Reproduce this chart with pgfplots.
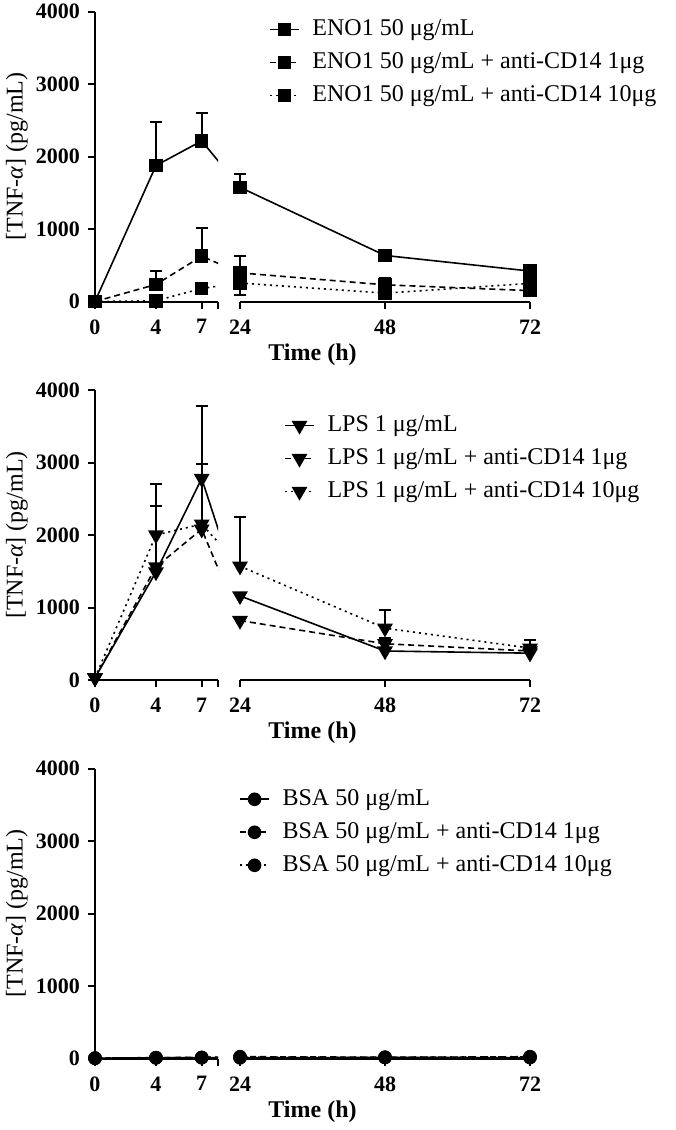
\documentclass[border=0pt]{standalone}
\usepackage{fontspec}
\setmainfont{Liberation Serif}
\usepackage{pgfplots}
\usepackage{pgfplotstable}
\pgfplotsset{compat=1.18}

% ---------- ENO1 ----------
\pgfplotstableread{
t y
0 0
4 1875
7 2215
24 1575
48 635
72 420
}\enoA
\pgfplotstableread{
t y
0 0
4 235
7 625
24 395
48 230
72 150
}\enoB
\pgfplotstableread{
t y
0 0
4 10
7 180
24 255
48 115
72 250
}\enoC
\pgfplotstableread{
t y ep em
4 1875 595 0
7 2215 390 0
24 1575 190 0
}\enoAe
\pgfplotstableread{
t y ep em
4 235 190 0
7 625 395 0
24 395 230 0
48 230 100 0
}\enoBe
\pgfplotstableread{
t y ep em
24 255 0 170
}\enoCe
% ---------- LPS ----------
\pgfplotstableread{
t y
0 30
4 1490
7 2780
24 1160
48 400
72 370
}\lpsA
\pgfplotstableread{
t y
0 30
4 1560
7 2080
24 820
48 500
72 400
}\lpsB
\pgfplotstableread{
t y
0 30
4 2000
7 2150
24 1570
48 715
72 440
}\lpsC
\pgfplotstableread{
t y ep
4 1490 910
7 2780 1000
}\lpsAe
\pgfplotstableread{
t y ep
7 2080 900
48 500 80
}\lpsBe
\pgfplotstableread{
t y ep
4 2000 700
24 1570 675
48 715 250
72 440 110
}\lpsCe
% ---------- BSA ----------
\pgfplotstableread{
t y
0 5
4 10
7 12
24 10
48 15
72 12
}\bsaA
\pgfplotstableread{
t y
0 5
4 12
7 15
24 25
48 18
72 22
}\bsaB
\pgfplotstableread{
t y
0 5
4 10
7 12
24 20
48 15
72 25
}\bsaC

\pgfplotsset{
  base/.style={
    scale only axis, height=145pt, ymin=0, ymax=4000,
    axis line style={line width=1pt, black},
    tick align=outside, major tick length=3.5pt,
    every tick/.style={line width=1pt, black},
    tick label style={font=\fontsize{11}{13}\selectfont\bfseries},
    xticklabel style={yshift=-2pt},
    yticklabel style={xshift=-0.5pt},
    /pgf/number format/assume math mode=true,
    /pgf/number format/1000 sep={},
  },
  leftax/.style={base, width=61.5pt, xmin=0, xmax=8.07,
    axis x line*=bottom, axis y line*=left,
    xtick={0,4,7,8.07}, xticklabels={0,4,7,{}},
    ytick={0,1000,2000,3000,4000},
    x coord trafo/.code={\pgfmathparse{##1<12 ? ##1 : 9.51+(##1-24)*0.3963}},
    ylabel={[TNF-{\itshape α}] (pg/mL)},
    every axis y label/.style={at={(axis description cs:0,0.5)}, xshift=-39pt, rotate=90, anchor=center, font=\fontsize{12}{14}\selectfont},
  },
  rightax/.style={base, width=145pt, xmin=24, xmax=72,
    axis x line*=bottom, axis y line=none,
    xtick={24,48,72}, clip=false, restrict x to domain=24:72,
    xlabel={Time (h)},
    every axis x label/.style={at={(axis description cs:0.25,0)}, yshift=-26.5pt, anchor=center, font=\fontsize{12}{14}\selectfont\bfseries},
    legend cell align=left,
    legend image code/.code={\draw[mark repeat=2, mark phase=2, ##1] plot coordinates {(0cm,0cm) (0.25cm,0cm) (0.5cm,0cm)};},
    legend style={draw=none, fill=none, inner sep=0pt, anchor=north west, row sep=1.5pt,
      font=\fontsize{12}{14}\selectfont, nodes={inner sep=1.5pt, text height=9pt, text depth=3pt},
      /tikz/every odd column/.append style={column sep=5pt}},
  },
  lA/.style={black, line width=0.8pt, solid, mark options={solid}},
  lB/.style={black, line width=0.8pt, dash pattern=on 3pt off 2pt, mark options={solid}},
  lC/.style={black, line width=0.8pt, dash pattern=on 1pt off 2pt, mark options={solid}},
  msq/.style={mark=square*, mark size=3pt},
  mtri/.style={mark=triangle*, mark size=3.8pt, mark options={solid, rotate=180}},
  mcir/.style={mark=*, mark size=3pt},
  err/.style={only marks, mark=none, forget plot,
    error bars/.cd, y dir=#1, y explicit,
    error bar style={solid, line width=1pt, black},
    error mark options={rotate=90, mark size=3pt, line width=1pt, black, solid}},
}

\begin{document}
\begin{tikzpicture}
\path[use as bounding box] (0pt,0pt) rectangle (337.5pt,-565pt);

% ================= Panel 1: ENO1 =================
\begin{axis}[leftax, at={(47.5pt,-150.75pt)}, anchor=south west]
\addplot[lA, msq] table[x=t,y=y] {\enoA};
\addplot[lB, msq] table[x=t,y=y] {\enoB};
\addplot[lC, msq] table[x=t,y=y] {\enoC};
\addplot[err=both] table[x=t,y=y,y error plus=ep,y error minus=em] {\enoAe};
\addplot[err=both] table[x=t,y=y,y error plus=ep,y error minus=em] {\enoBe};
\end{axis}
\begin{axis}[rightax, at={(120pt,-150.75pt)}, anchor=south west,
  legend style={at={(axis description cs:0.1,0.991)}}]
\addplot[lA, msq] table[x=t,y=y] {\enoA};
\addplot[lB, msq] table[x=t,y=y] {\enoB};
\addplot[lC, msq] table[x=t,y=y] {\enoC};
\addplot[err=both] table[x=t,y=y,y error plus=ep,y error minus=em] {\enoAe};
\addplot[err=both] table[x=t,y=y,y error plus=ep,y error minus=em] {\enoBe};
\addplot[err=both] table[x=t,y=y,y error plus=ep,y error minus=em] {\enoCe};
\legend{ENO1 50 μg/mL, ENO1 50 μg/mL + anti-CD14 1μg, ENO1 50 μg/mL + anti-CD14 10μg}
\end{axis}

% ================= Panel 2: LPS =================
\begin{axis}[leftax, at={(47.5pt,-340pt)}, anchor=south west]
\addplot[lA, mtri] table[x=t,y=y] {\lpsA};
\addplot[lB, mtri] table[x=t,y=y] {\lpsB};
\addplot[lC, mtri] table[x=t,y=y] {\lpsC};
\addplot[err=plus] table[x=t,y=y,y error plus=ep] {\lpsAe};
\addplot[err=plus] table[x=t,y=y,y error plus=ep] {\lpsBe};
\addplot[err=plus] table[x=t,y=y,y error plus=ep] {\lpsCe};
\end{axis}
\begin{axis}[rightax, at={(120pt,-340pt)}, anchor=south west,
  legend style={at={(axis description cs:0.152,0.931)}}]
\addplot[lA, mtri] table[x=t,y=y] {\lpsA};
\addplot[lB, mtri] table[x=t,y=y] {\lpsB};
\addplot[lC, mtri] table[x=t,y=y] {\lpsC};
\addplot[err=plus] table[x=t,y=y,y error plus=ep] {\lpsBe};
\addplot[err=plus] table[x=t,y=y,y error plus=ep] {\lpsCe};
\legend{LPS 1 μg/mL, LPS 1 μg/mL + anti-CD14 1μg, LPS 1 μg/mL + anti-CD14 10μg}
\end{axis}

% ================= Panel 3: BSA =================
\begin{axis}[leftax, at={(47.5pt,-529.25pt)}, anchor=south west]
\addplot[lA, mcir] table[x=t,y=y] {\bsaA};
\addplot[lB, mcir] table[x=t,y=y] {\bsaB};
\addplot[lC, mcir] table[x=t,y=y] {\bsaC};
\end{axis}
\begin{axis}[rightax, at={(120pt,-529.25pt)}, anchor=south west,
  legend style={at={(axis description cs:-0.003,0.947)}}]
\addplot[lA, mcir] table[x=t,y=y] {\bsaA};
\addplot[lB, mcir] table[x=t,y=y] {\bsaB};
\addplot[lC, mcir] table[x=t,y=y] {\bsaC};
\legend{BSA 50 μg/mL, BSA 50 μg/mL + anti-CD14 1μg, BSA 50 μg/mL + anti-CD14 10μg}
\end{axis}
\end{tikzpicture}
\end{document}
